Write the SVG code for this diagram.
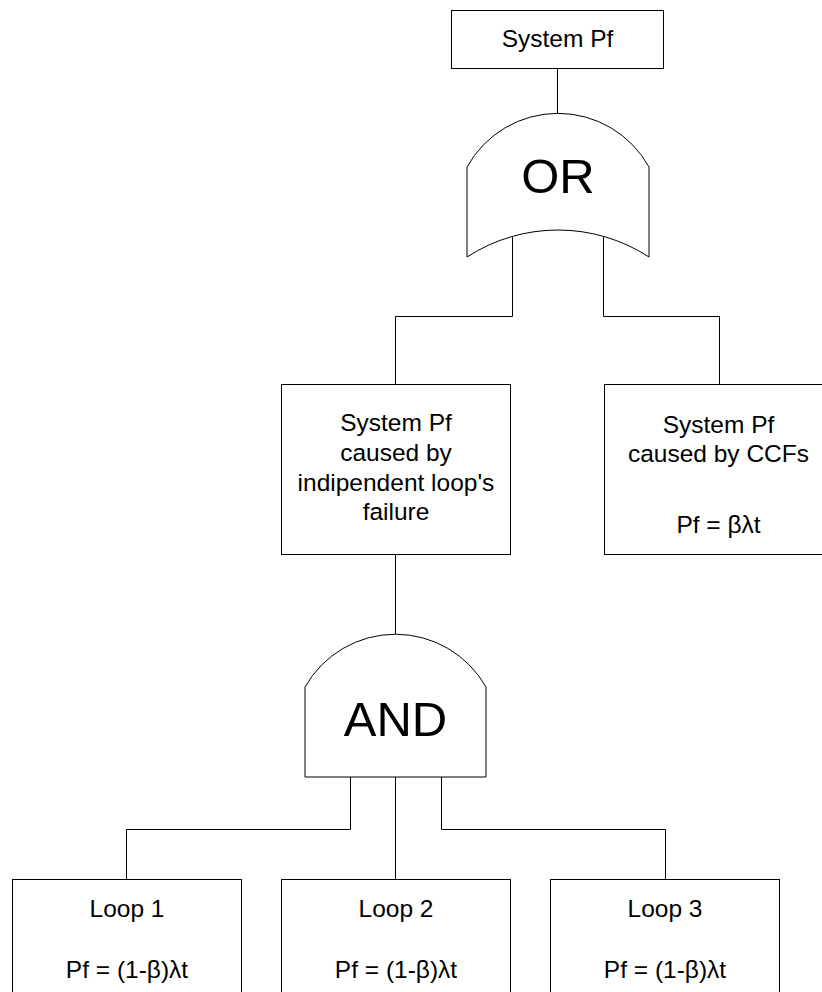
<svg xmlns="http://www.w3.org/2000/svg" width="822" height="992" viewBox="0 0 822 992">
<style>
.box{fill:#fff;stroke:#000;stroke-width:1}
.gate{fill:#fff;stroke:#000;stroke-width:1}
.t{font-family:"Liberation Sans",Arial,sans-serif;font-size:24.5px;fill:#000;text-anchor:middle}
.g{font-family:"Liberation Sans",Arial,sans-serif;font-size:49px;fill:#000;text-anchor:middle}
.c{fill:none;stroke:#000;stroke-width:1}
</style>
<rect width="822" height="992" fill="#fff"/>
<g id="connectors">
<path class="c" d="M557.5,68 V113"/>
<path class="c" d="M512.5,237 V316.5 H395.5 V384"/>
<path class="c" d="M603.5,237 V316.5 H719.5 V384"/>
<path class="c" d="M395.5,554 V634"/>
<path class="c" d="M350.5,777 V829.5 H126.5 V879"/>
<path class="c" d="M395.5,777 V879"/>
<path class="c" d="M441.5,777 V829.5 H665.5 V879"/>
</g>
<g id="top">
<rect class="box" x="451.5" y="10.5" width="212" height="58"/>
<text class="t" x="557.5" y="47">System Pf</text>
</g>
<g id="or-gate">
<path class="gate" d="M467,167 A104,104 0 0 1 649,167 L649,257 A167,167 0 0 0 467,257 Z"/>
<text class="g" x="558" y="193">OR</text>
</g>
<g id="indep">
<rect class="box" x="281.5" y="384.5" width="229" height="170"/>
<text class="t" x="396" y="431">System Pf</text>
<text class="t" x="396" y="461">caused by</text>
<text class="t" x="396" y="491">indipendent loop's</text>
<text class="t" x="396" y="520">failure</text>
</g>
<g id="ccf">
<rect class="box" x="604.5" y="384.5" width="229" height="170"/>
<text class="t" x="718.5" y="432.5">System Pf</text>
<text class="t" x="718.5" y="462">caused by CCFs</text>
<text class="t" x="718.5" y="533">Pf = βλt</text>
</g>
<g id="and-gate">
<path class="gate" d="M305,687 A104,104 0 0 1 486,687 L486,777 L305,777 Z"/>
<text class="g" x="395.5" y="736">AND</text>
</g>
<g id="loop1">
<rect class="box" x="12.5" y="879.5" width="229" height="170"/>
<text class="t" x="127" y="916.5">Loop 1</text>
<text class="t" x="127" y="977.5">Pf = (1-β)λt</text>
</g>
<g id="loop2">
<rect class="box" x="281.5" y="879.5" width="229" height="170"/>
<text class="t" x="396" y="916.5">Loop 2</text>
<text class="t" x="396" y="977.5">Pf = (1-β)λt</text>
</g>
<g id="loop3">
<rect class="box" x="550.5" y="879.5" width="229" height="170"/>
<text class="t" x="665" y="916.5">Loop 3</text>
<text class="t" x="665" y="977.5">Pf = (1-β)λt</text>
</g>
</svg>
